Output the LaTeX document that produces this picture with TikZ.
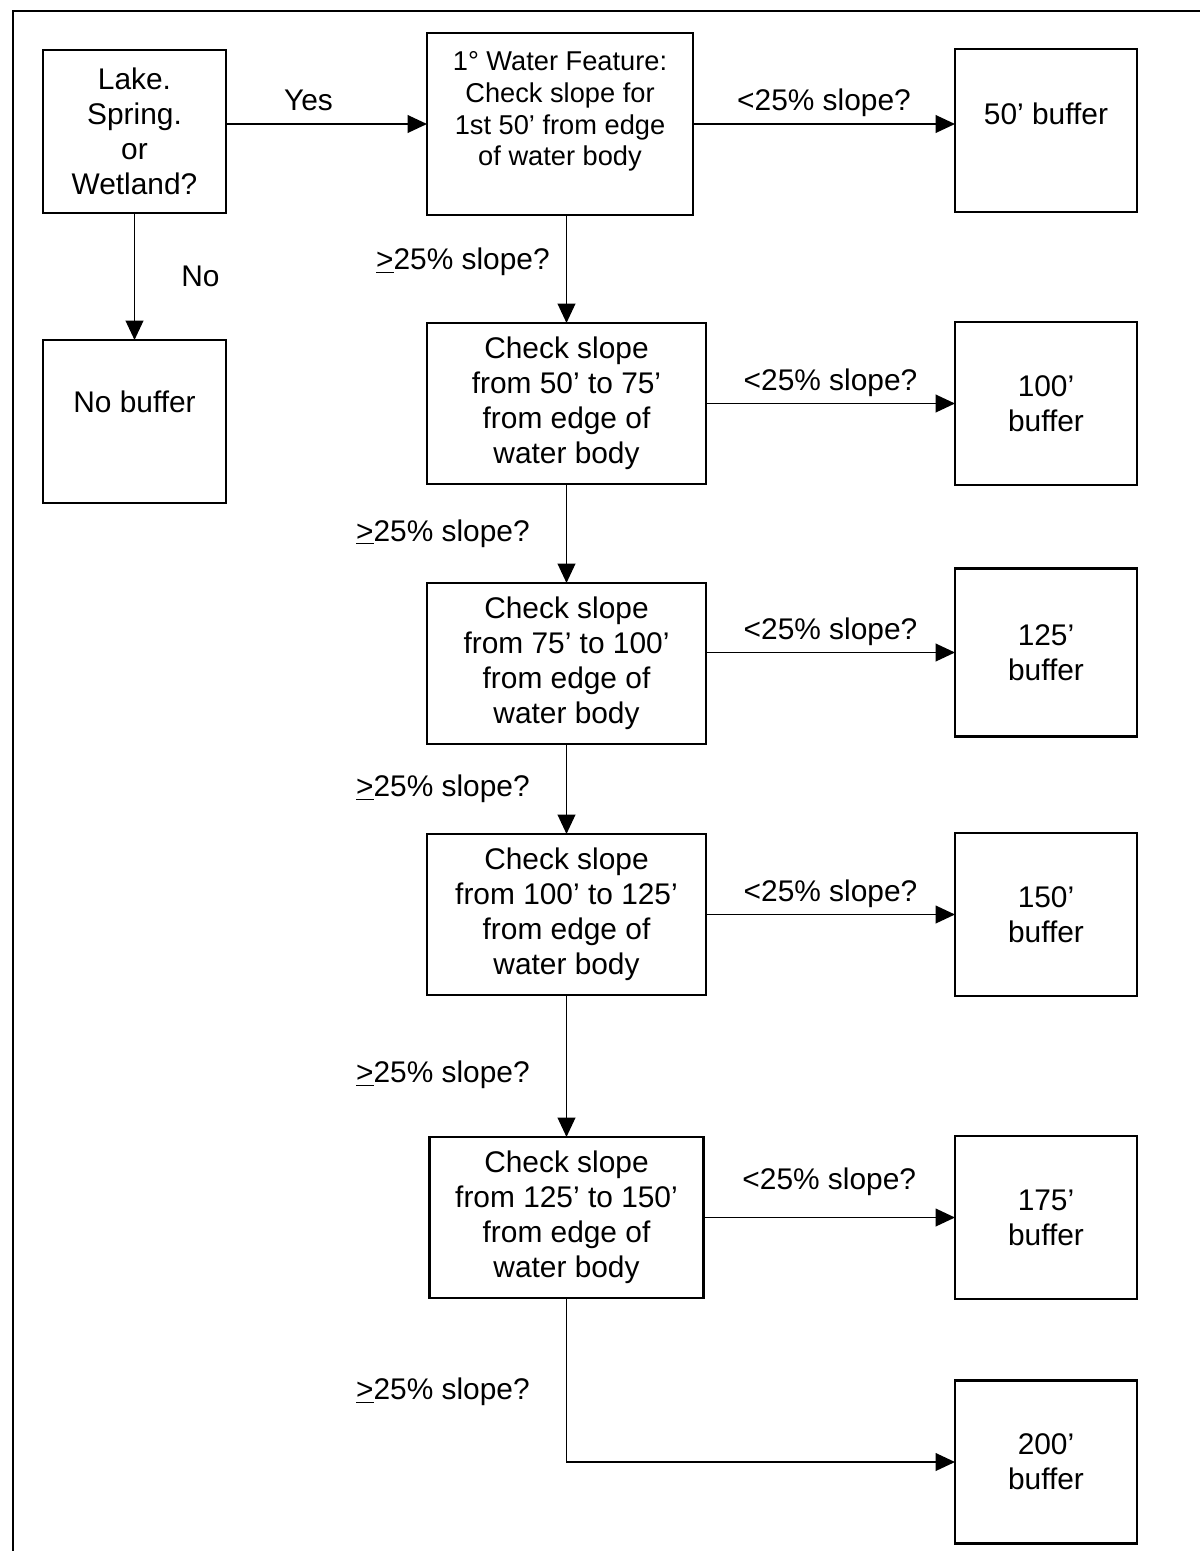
\documentclass[tikz,border=0pt]{standalone}
\usepackage{fontspec}
\setmainfont{Liberation Sans}
\usetikzlibrary{arrows.meta, positioning, calc}
\newcommand{\gtul}{\underline{>}}
\tikzset{
  stepbox/.style={draw, line width=1.5pt, minimum width=5.58cm,
                  minimum height=3.22cm, align=center, inner sep=2pt,
                  outer sep=0pt, font=\fontsize{17}{19.9}\selectfont},
  bufbox/.style={draw, line width=1.5pt, minimum width=3.64cm,
                 minimum height=3.26cm, align=center, inner sep=2pt,
                 outer sep=0pt, font=\fontsize{17}{19.9}\selectfont},
  arrow/.style={-{Triangle[length=11pt, width=10pt]}, line width=1.1pt},
  cond/.style={font=\fontsize{17}{19.9}\selectfont},
}

\begin{document}
\begin{tikzpicture}

  \useasboundingbox (0,0) rectangle (24,-31.02);
  \draw[line width=1.6pt] (0.26,-31.02) |- (24,-0.22);

  % --- Start ---
  \node[stepbox, minimum width=3.66cm, minimum height=3.26cm]
    (lake) at (2.69,-2.63) {Lake.\\Spring.\\or\\Wetland?};
  \node[stepbox, minimum width=3.66cm, minimum height=3.26cm,
        text depth=0.8cm, below=2.54cm of lake]
    (nobuf) {No buffer};

  % --- Slope checks ---
  \node[stepbox, minimum width=5.32cm, minimum height=3.64cm,
        font=\fontsize{15.5}{18.2}\selectfont, text depth=0.62cm]
    (water) at (11.2,-2.48)
    {1° Water Feature:\\Check slope for\\1st 50' from edge\\of water body};
  \node[stepbox, below=2.16cm of water, xshift=0.13cm]
    (chk1) {Check slope\\from 50' to 75'\\from edge of\\water body};
  \node[stepbox, below=1.98cm of chk1]
    (chk2) {Check slope\\from 75' to 100'\\from edge of\\water body};
  \node[stepbox, below=1.8cm of chk2]
    (chk3) {Check slope\\from 100' to 125'\\from edge of\\water body};
  \node[stepbox, minimum width=5.48cm, below=2.84cm of chk3]
    (chk4) {Check slope\\from 125' to 150'\\from edge of\\water body};

  % --- Buffers ---
  \node[bufbox, text depth=0.68cm] (buf1) at (20.92,-2.61) {50' buffer};
  \node[bufbox] (buf2) at (buf1 |- chk1) {100'\\buffer};
  \node[bufbox, minimum height=3.36cm, yshift=0.22cm]
    (buf3) at (buf1 |- chk2) {125'\\buffer};
  \node[bufbox] (buf4) at (buf1 |- chk3) {150'\\buffer};
  \node[bufbox] (buf5) at (buf1 |- chk4) {175'\\buffer};
  \node[bufbox, below=1.63cm of buf5] (buf6) {200'\\buffer};

  % --- Arrows ---
  \draw[arrow] (lake.east |- water) --
    node[cond, above, xshift=-0.36cm, yshift=0.12cm] {Yes} (water);
  \draw[arrow] (lake) -- node[cond, right, xshift=0.8cm] {No} (nobuf);

  \draw[arrow] (water.east) --
    node[cond, above] {<25\% slope?} (water.east -| buf1.west);
  \draw[arrow] (chk1) -- node[cond, above] {<25\% slope?} (buf2);
  \draw[arrow] (chk2.east |- buf3) -- node[cond, above] {<25\% slope?} (buf3);
  \draw[arrow] (chk3) -- node[cond, above] {<25\% slope?} (buf4);
  \draw[arrow] (chk4) -- node[cond, above, yshift=0.3cm] {<25\% slope?} (buf5);

  \draw[arrow] (water.south -| chk1) --
    node[cond, left, xshift=-0.2cm, yshift=0.14cm] {\gtul25\% slope?} (chk1);
  \draw[arrow] (chk1) -- node[cond, left, xshift=-0.6cm] {\gtul25\% slope?} (chk2);
  \draw[arrow] (chk2) -- node[cond, left, xshift=-0.6cm] {\gtul25\% slope?} (chk3);
  \draw[arrow] (chk3) -- node[cond, left, xshift=-0.6cm, yshift=-0.18cm]
    {\gtul25\% slope?} (chk4);
  \draw[arrow] (chk4.south) |-
    node[cond, left, pos=0.25, xshift=-0.6cm, yshift=-0.24cm]
    {\gtul25\% slope?} (buf6);

\end{tikzpicture}
\end{document}
